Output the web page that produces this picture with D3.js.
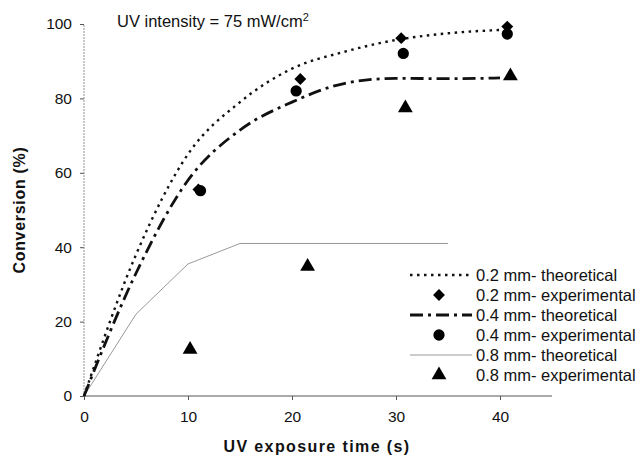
<!DOCTYPE html>
<html>
<head>
<meta charset="utf-8">
<script src="https://cdn.jsdelivr.net/npm/d3@7"></script>
<style>
  html, body { margin: 0; padding: 0; background: #fff; }
  svg { display: block; font-family: "Liberation Sans", Arial, sans-serif; }
</style>
</head>
<body>
<svg id="chart" width="642" height="465"></svg>
<script>
// Theoretical curves, sampled every 5 s
const theoTime = [0, 5, 10, 15, 20, 25, 30, 35, 40];
const theo02 = [0, 38, 65, 79, 88, 92.5, 95.7, 97.5, 98.4];
const theo04 = [0, 33, 58, 71.5, 79, 84, 85.4, 85.3, 85.5];
const theo08Time = [0, 5, 10, 15, 20, 25, 30, 35];
const theo08 = [0, 22, 35.5, 41, 41, 41, 41, 41];

// Measured conversions
const exp02Time = [11, 20.8, 30.5, 40.7];
const exp02 = [55.5, 85.2, 96.2, 99.3];
const exp04Time = [11.2, 20.4, 30.7, 40.7];
const exp04 = [55.2, 82, 92.1, 97.3];
const exp08Time = [10.2, 21.5, 30.9, 41];
const exp08 = [12.5, 34.8, 77.4, 86];

const xTicks = [0, 10, 20, 30, 40];
const yTicks = [0, 20, 40, 60, 80, 100];
const legendLabels = [
  "0.2 mm- theoretical", "0.2 mm- experimental",
  "0.4 mm- theoretical", "0.4 mm- experimental",
  "0.8 mm- theoretical", "0.8 mm- experimental"
];

const svg = d3.select("#chart");
const x = d3.scaleLinear().domain([0, 45]).range([84, 552]);
const y = d3.scaleLinear().domain([0, 100]).range([396, 24]);

// Y axis: light dashed spine with ticks on the left
const yAxis = svg.append("g").attr("transform", "translate(84,0)")
  .call(d3.axisLeft(y).tickValues(yTicks).tickSize(4).tickPadding(8));
yAxis.select(".domain").attr("stroke", "#777").attr("stroke-width", 0.8)
  .attr("stroke-dasharray", "2,1").attr("d", `M0,${y(0)}V${y(100)}`);
yAxis.selectAll(".tick line").attr("stroke", "#555");
yAxis.selectAll("text").attr("font-size", 15.5).attr("fill", "#111");

// X axis
const xAxis = svg.append("g").attr("transform", "translate(0,396)")
  .call(d3.axisBottom(x).tickValues(xTicks).tickSize(4).tickPadding(11));
xAxis.select(".domain").attr("stroke", "#555").attr("stroke-width", 1)
  .attr("d", `M${x(0)},0H${x(45)}`);
xAxis.selectAll(".tick line").attr("stroke", "#555");
xAxis.selectAll("text").attr("font-size", 15.5).attr("fill", "#111");

// Axis titles
svg.append("text").attr("x", 317).attr("y", 452).attr("text-anchor", "middle")
  .attr("font-size", 16).attr("font-weight", "bold").attr("letter-spacing", 1.4)
  .attr("fill", "#111").text("UV exposure time (s)");
svg.append("text").attr("transform", "translate(25,210) rotate(-90)")
  .attr("text-anchor", "middle").attr("font-size", 16).attr("font-weight", "bold")
  .attr("letter-spacing", 0.7).attr("fill", "#111").text("Conversion (%)");

// Intensity note
const note = svg.append("text").attr("x", 117).attr("y", 27)
  .attr("font-size", 16.5).attr("fill", "#111");
note.append("tspan").text("UV intensity = 75 mW/cm");
note.append("tspan").attr("dy", -6).attr("font-size", 11).text("2");

// Line styles
const styles = {
  t02: { stroke: "#111", width: 2.4, dash: "2.5,4.5" },
  t04: { stroke: "#111", width: 2.8, dash: "13,5,3,5" },
  t08: { stroke: "#999", width: 1, dash: null }
};

function drawLine(xs, ys, st, curve) {
  const pts = xs.map((t, i) => [t, ys[i]]);
  const line = d3.line().x(d => x(d[0])).y(d => y(d[1])).curve(curve);
  const p = svg.append("path").datum(pts).attr("d", line)
    .attr("fill", "none").attr("stroke", st.stroke).attr("stroke-width", st.width);
  if (st.dash) p.attr("stroke-dasharray", st.dash);
}

drawLine(theo08Time, theo08, styles.t08, d3.curveLinear);
drawLine(theoTime, theo04, styles.t04, d3.curveMonotoneX);
drawLine(theoTime, theo02, styles.t02, d3.curveMonotoneX);

const sym = {
  diamond: d3.symbol().type(d3.symbolDiamond2).size(90),
  circle: d3.symbol().type(d3.symbolCircle).size(100),
  triangle: d3.symbol().type(d3.symbolTriangle).size(95)
};

function drawMarks(xs, ys, s) {
  svg.append("g").selectAll("path").data(xs.map((t, i) => [t, ys[i]])).join("path")
    .attr("transform", d => `translate(${x(d[0])},${y(d[1])})`)
    .attr("d", s).attr("fill", "#000");
}
drawMarks(exp02Time, exp02, sym.diamond);
drawMarks(exp04Time, exp04, sym.circle);
drawMarks(exp08Time, exp08, sym.triangle);

// Legend
const lg = svg.append("g");
const rowY = i => 275 + i * 20;
const entries = [
  { kind: "line", st: styles.t02 }, { kind: "mark", s: sym.diamond },
  { kind: "line", st: styles.t04 }, { kind: "mark", s: sym.circle },
  { kind: "line", st: styles.t08 }, { kind: "mark", s: sym.triangle }
];
entries.forEach((e, i) => {
  if (e.kind === "line") {
    const l = lg.append("line").attr("x1", 410).attr("x2", 472)
      .attr("y1", rowY(i)).attr("y2", rowY(i))
      .attr("stroke", e.st.stroke).attr("stroke-width", e.st.width);
    if (e.st.dash) l.attr("stroke-dasharray", e.st.dash);
  } else {
    lg.append("path").attr("transform", `translate(439,${rowY(i)})`)
      .attr("d", e.s).attr("fill", "#000");
  }
  lg.append("text").attr("x", 476).attr("y", rowY(i) + 6)
    .attr("font-size", 16.5).attr("fill", "#111").text(legendLabels[i]);
});
</script>
</body>
</html>
